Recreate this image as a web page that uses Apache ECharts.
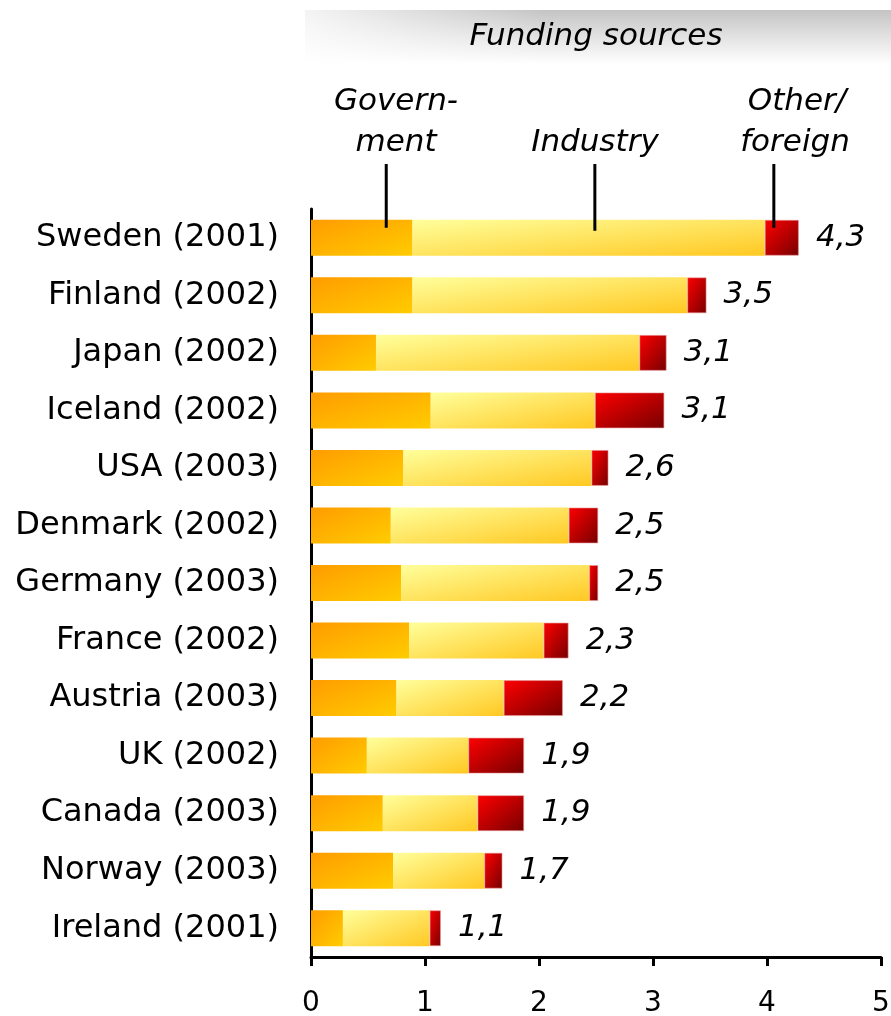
<!DOCTYPE html>
<html>
<head>
<meta charset="utf-8">
<script src="https://cdn.jsdelivr.net/npm/echarts@6/dist/echarts.min.js"></script>
<style>
  html, body { margin: 0; padding: 0; background: #fff; }
  #chart { width: 891px; height: 1016px; }
</style>
</head>
<body>
<div id="chart"></div>
<script>
// R&D funding by source, % of GDP
const categories = [
  "Sweden (2001)", "Finland (2002)", "Japan (2002)", "Iceland (2002)",
  "USA (2003)", "Denmark (2002)", "Germany (2003)", "France (2002)",
  "Austria (2003)", "UK (2002)", "Canada (2003)", "Norway (2003)", "Ireland (2001)"
];
const government = [0.89, 0.89, 0.57, 1.05, 0.81, 0.70, 0.79, 0.86, 0.75, 0.49, 0.63, 0.72, 0.28];
const industry   = [3.09, 2.41, 2.31, 1.44, 1.65, 1.56, 1.65, 1.18, 0.94, 0.89, 0.83, 0.80, 0.76];
const other      = [0.30, 0.17, 0.24, 0.61, 0.15, 0.26, 0.08, 0.22, 0.52, 0.49, 0.41, 0.16, 0.10];
const totals     = ["4,3", "3,5", "3,1", "3,1", "2,6", "2,5", "2,5", "2,3", "2,2", "1,9", "1,9", "1,7", "1,1"];
const xTicks = [0, 1, 2, 3, 4, 5];
// where the source captions point (x value on the Sweden bar)
const captionAnchors = [0.66, 2.49, 4.06];

const FONT = "DejaVu Sans";
const PX_PER_UNIT = 114;
const BAR_H = 36;

// gradient like the office "diagonal" fill: isolines run corner to corner of each bar
function barGrad(value, c0, c1) {
  const w = Math.max(value * PX_PER_UNIT, 1), h = BAR_H;
  const d = w * w + h * h;
  return new echarts.graphic.LinearGradient(0, 0, 2 * h * h / d, 2 * w * w / d, [
    { offset: 0, color: c0 },
    { offset: 1, color: c1 }
  ]);
}

const chart = echarts.init(document.getElementById("chart"), null, { renderer: "canvas" });

const option = {
  animation: false,
  backgroundColor: "#fff",
  grid: { left: 311, right: 10, top: 209, bottom: 59, containLabel: false, outerBoundsMode: "none" },
  xAxis: {
    type: "value",
    min: xTicks[0],
    max: xTicks[xTicks.length - 1],
    interval: 1,
    splitLine: { show: false },
    axisLine: { show: true, lineStyle: { color: "#000", width: 3 } },
    axisTick: { show: true, length: 9, lineStyle: { color: "#000", width: 3 } },
    axisLabel: { fontFamily: FONT, fontSize: 28, color: "#000", margin: 33 }
  },
  yAxis: {
    type: "category",
    inverse: true,
    data: categories,
    axisLine: { show: true, lineStyle: { color: "#000", width: 3 } },
    axisTick: { show: false },
    axisLabel: { fontFamily: FONT, fontSize: 32, color: "#000", margin: 32 }
  },
  series: [
    {
      name: "Government",
      type: "bar",
      stack: "total",
      barWidth: BAR_H,
      data: government,
      itemStyle: { color: p => barGrad(p.value, "#ff9c00", "#ffcc00") }
    },
    {
      name: "Industry",
      type: "bar",
      stack: "total",
      barWidth: BAR_H,
      data: industry,
      itemStyle: { color: p => barGrad(p.value, "#ffff9c", "#ffc822") }
    },
    {
      name: "Other/foreign",
      type: "bar",
      stack: "total",
      barWidth: BAR_H,
      data: other,
      itemStyle: {
        color: p => barGrad(p.value, "#ff0000", "#760000"),
        borderColor: "rgba(230,150,150,0.6)",
        borderWidth: 1
      },
      label: {
        show: true,
        position: "right",
        distance: 17,
        formatter: p => totals[p.dataIndex],
        fontFamily: FONT,
        fontStyle: "italic",
        fontSize: 31,
        color: "#000"
      }
    }
  ]
};
chart.setOption(option);

// captions and pointer lines
const topY = chart.convertToPixel({ yAxisIndex: 0 }, categories[0]);
const lineX = captionAnchors.map(v => chart.convertToPixel({ xAxisIndex: 0 }, v));
const capStyle = { fontFamily: FONT, fontStyle: "italic", fontSize: 31, fill: "#000", textAlign: "center", textVerticalAlign: "middle" };

const graphics = [
  {
    type: "rect", id: "banner",
    shape: { x: 305, y: 10, width: 586, height: 54 },
    style: {
      fill: new echarts.graphic.LinearGradient(0, 10, 0, 64, [
        { offset: 0, color: "#c4c4c4" },
        { offset: 0.5, color: "#e2e2e2" },
        { offset: 1, color: "#ffffff" }
      ], true)
    }
  },
  {
    type: "rect", id: "bannerFade",
    shape: { x: 305, y: 10, width: 240, height: 54 },
    style: {
      fill: new echarts.graphic.LinearGradient(305, 64, 545, 10, [
        { offset: 0, color: "rgba(255,255,255,0.85)" },
        { offset: 1, color: "rgba(255,255,255,0)" }
      ], true)
    }
  },
  { type: "text", id: "t0", x: 596, y: 37, style: Object.assign({ text: "Funding sources" }, capStyle) },
  { type: "text", id: "t1", x: 396, y: 102, style: Object.assign({ text: "Govern-" }, capStyle) },
  { type: "text", id: "t2", x: 396, y: 143, style: Object.assign({ text: "ment" }, capStyle) },
  { type: "text", id: "t3", x: 595, y: 143, style: Object.assign({ text: "Industry" }, capStyle) },
  { type: "text", id: "t4", x: 797, y: 102, style: Object.assign({ text: "Other/" }, capStyle) },
  { type: "text", id: "t5", x: 795, y: 143, style: Object.assign({ text: "foreign" }, capStyle) }
];
lineX.forEach((x, i) => {
  graphics.push({
    type: "line", id: "l" + i, z: 100,
    shape: { x1: x, y1: 164, x2: x, y2: topY - 10 + (i === 1 ? 3 : 0) },
    style: { stroke: "#000", lineWidth: 3 }
  });
});
chart.setOption({ graphic: graphics });
</script>
</body>
</html>
